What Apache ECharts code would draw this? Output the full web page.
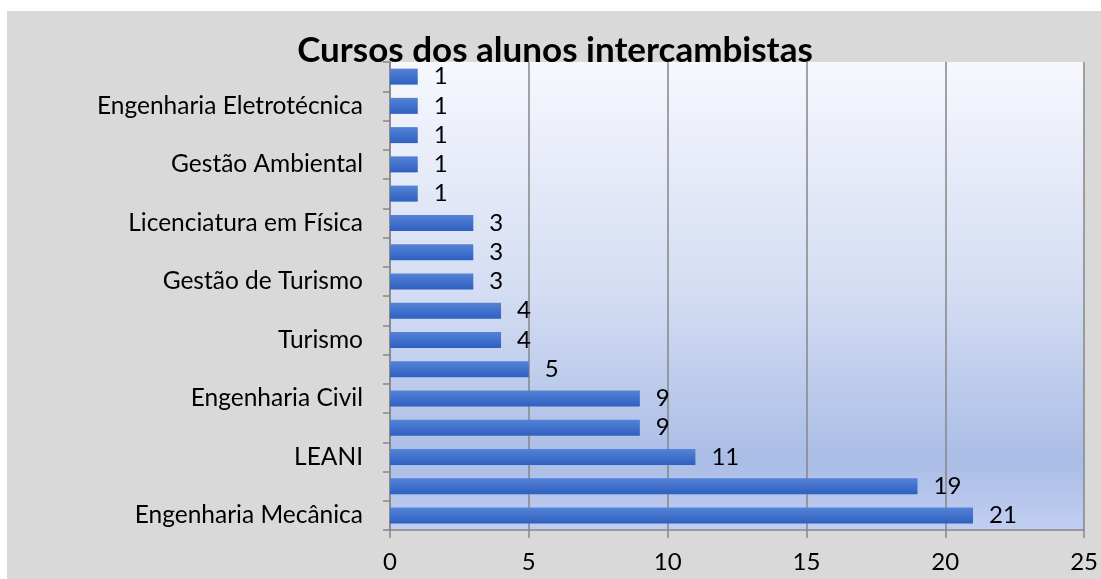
<!DOCTYPE html>
<html>
<head>
<meta charset="utf-8">
<script src="https://cdn.jsdelivr.net/npm/echarts@6/dist/echarts.min.js"></script>
<style>
  html, body { margin: 0; padding: 0; background: #fff; }
  #chart { width: 1101px; height: 579px; }
</style>
</head>
<body>
<div id="chart"></div>
<script>
// categorias de baixo para cima (as sem rótulo ficam vazias)
var cursos = ['Engenharia Mecânica', '', 'LEANI', '', 'Engenharia Civil', '', 'Turismo', '',
  'Gestão de Turismo', '', 'Licenciatura em Física', '', 'Gestão Ambiental', '', 'Engenharia Eletrotécnica', ''];
var alunos = [21, 19, 11, 9, 9, 5, 4, 4, 3, 3, 3, 1, 1, 1, 1, 1];
var titulo = 'Cursos dos alunos intercambistas';

var myChart = echarts.init(document.getElementById('chart'));
var fonte = 'Lato, "Noto Sans", sans-serif';

var option = {
  backgroundColor: '#fff',
  animation: false,
  graphic: [{
    type: 'rect',
    z: -10,
    shape: { x: 7, y: 11, width: 1094, height: 568 },
    style: { fill: '#d9d9d9' }
  }],
  title: {
    text: titulo,
    left: 550,
    textAlign: 'center',
    top: 28,
    textStyle: { fontFamily: fonte, fontSize: 35, fontWeight: 'bold', color: '#000' }
  },
  grid: {
    left: 390, right: 15, top: 62, bottom: 49,
    show: true,
    borderWidth: 0,
    backgroundColor: new echarts.graphic.LinearGradient(0, 0, 0, 1, [
      { offset: 0, color: '#f7f8fe' },
      { offset: 0.5, color: '#d3dcf2' },
      { offset: 0.85, color: '#aabde6' },
      { offset: 1, color: '#c0cef0' }
    ])
  },
  xAxis: {
    type: 'value',
    min: 0, max: 25, interval: 5,
    axisLine: { show: true, lineStyle: { color: '#868686', width: 1.5 } },
    axisTick: { show: true, length: 8, lineStyle: { color: '#868686', width: 1.5 } },
    splitLine: { show: true, lineStyle: { color: '#868686', width: 1.5 } },
    axisLabel: { fontFamily: fonte, fontSize: 24, color: '#000', margin: 20 }
  },
  yAxis: {
    type: 'category',
    data: cursos,
    axisLine: { show: true, lineStyle: { color: '#868686', width: 1.5 } },
    axisTick: { show: true, length: 7, alignWithLabel: false, interval: 0, lineStyle: { color: '#868686', width: 1.5 } },
    axisLabel: { fontFamily: fonte, fontSize: 24.5, color: '#000', margin: 27, interval: 0 }
  },
  series: [{
    type: 'bar',
    data: alunos,
    barWidth: 16,
    itemStyle: {
      color: new echarts.graphic.LinearGradient(0, 0, 0, 1, [
        { offset: 0, color: '#5483d6' },
        { offset: 1, color: '#2f60c0' }
      ])
    },
    label: {
      show: true,
      position: 'right',
      distance: 16,
      fontFamily: fonte,
      fontSize: 24,
      color: '#000'
    }
  }]
};
myChart.setOption(option);
</script>
</body>
</html>
